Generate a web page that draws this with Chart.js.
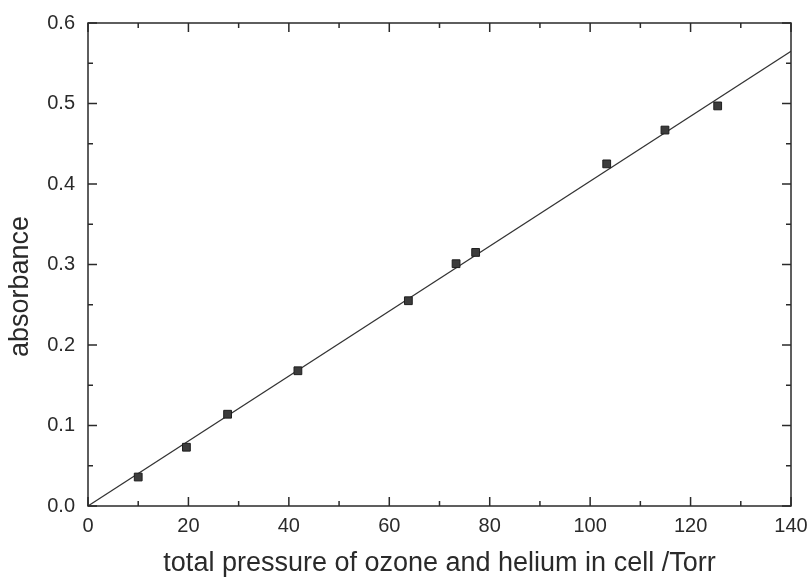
<!DOCTYPE html>
<html>
<head>
<meta charset="utf-8">
<script src="https://cdn.jsdelivr.net/npm/chart.js@4.4.1/dist/chart.umd.min.js"></script>
<style>
  html, body { margin: 0; padding: 0; background: #fff; }
  #wrap { width: 809px; height: 578px; }
</style>
</head>
<body>
<div id="wrap"><canvas id="absChart" width="809" height="578"></canvas></div>
<script>
// measured points
const pressure = [10, 19.6, 27.8, 41.8, 63.8, 73.3, 77.2, 103.3, 114.9, 125.4];
const absorbance = [0.036, 0.073, 0.114, 0.168, 0.255, 0.301, 0.315, 0.425, 0.467, 0.497];

// linear fit through origin
const fitPressure = [0, 140];
const fitAbsorbance = [0, 0.565];

const xTicks = [0, 20, 40, 60, 80, 100, 120, 140];
const yTicks = [0.0, 0.1, 0.2, 0.3, 0.4, 0.5, 0.6];

const xTitle = 'total pressure of ozone and helium in cell /Torr';
const yTitle = 'absorbance';

const ink = '#2a2a2a';
const fontName = '"Liberation Sans", Arial, sans-serif';

// frame + inward ticks on all four sides, y title (sits a bit below centre in the original)
const framePlugin = {
    id: 'frame',
    afterDatasetsDraw(chart) {
        const { ctx, chartArea: a, scales: { x, y } } = chart;
        ctx.save();
        ctx.strokeStyle = ink;
        ctx.lineWidth = 1.5;
        ctx.strokeRect(a.left, a.top, a.right - a.left, a.bottom - a.top);

        ctx.beginPath();
        xTicks.forEach((v, i) => {
            const px = x.getPixelForValue(v);
            ctx.moveTo(px, a.bottom); ctx.lineTo(px, a.bottom - 9);
            ctx.moveTo(px, a.top); ctx.lineTo(px, a.top + 9);
            if (i < xTicks.length - 1) {
                const mx = x.getPixelForValue((v + xTicks[i + 1]) / 2);
                ctx.moveTo(mx, a.bottom); ctx.lineTo(mx, a.bottom - 5);
                ctx.moveTo(mx, a.top); ctx.lineTo(mx, a.top + 5);
            }
        });
        yTicks.forEach((v, i) => {
            const py = y.getPixelForValue(v);
            ctx.moveTo(a.left, py); ctx.lineTo(a.left + 9, py);
            ctx.moveTo(a.right, py); ctx.lineTo(a.right - 9, py);
            if (i < yTicks.length - 1) {
                const my = y.getPixelForValue((v + yTicks[i + 1]) / 2);
                ctx.moveTo(a.left, my); ctx.lineTo(a.left + 5, my);
                ctx.moveTo(a.right, my); ctx.lineTo(a.right - 5, my);
            }
        });
        ctx.stroke();

        ctx.translate(y.left + 21, (a.top + a.bottom) / 2 + 22);
        ctx.rotate(-Math.PI / 2);
        ctx.fillStyle = ink;
        ctx.font = '27px ' + fontName;
        ctx.textAlign = 'center';
        ctx.textBaseline = 'middle';
        ctx.fillText(yTitle, 0, 0);
        ctx.restore();
    }
};

new Chart(document.getElementById('absChart'), {
    type: 'scatter',
    data: {
        datasets: [
            {
                label: 'data',
                data: pressure.map((p, i) => ({ x: p, y: absorbance[i] })),
                pointStyle: 'rect',
                pointRadius: 5.5,
                backgroundColor: '#3c3c3c',
                borderColor: '#1e1e1e',
                borderWidth: 1,
                order: 1
            },
            {
                label: 'fit',
                data: fitPressure.map((p, i) => ({ x: p, y: fitAbsorbance[i] })),
                showLine: true,
                pointRadius: 0,
                borderColor: '#333',
                borderWidth: 1.2,
                order: 2
            }
        ]
    },
    options: {
        responsive: false,
        animation: false,
        layout: { padding: { top: 23, right: 18, left: 0, bottom: 0 } },
        plugins: { legend: { display: false }, tooltip: { enabled: false } },
        scales: {
            x: {
                type: 'linear',
                min: 0, max: 140,
                afterBuildTicks: s => { s.ticks = xTicks.map(v => ({ value: v })); },
                afterFit: s => { s.height = 72; s.paddingLeft = 0; s.paddingRight = 0; },
                grid: { display: false, drawTicks: false },
                border: { display: false },
                ticks: {
                    color: ink, padding: 8,
                    font: { family: fontName, size: 20 },
                    maxRotation: 0
                },
                title: {
                    display: true,
                    text: xTitle,
                    color: ink,
                    font: { family: fontName, size: 27, lineHeight: 1 },
                    padding: { top: 0, bottom: 1 }
                }
            },
            y: {
                type: 'linear',
                min: 0, max: 0.6,
                afterBuildTicks: s => { s.ticks = yTicks.map(v => ({ value: v })); },
                afterFit: s => { s.width = 88; s.paddingTop = 0; s.paddingBottom = 0; },
                grid: { display: false, drawTicks: false },
                border: { display: false },
                ticks: {
                    color: ink, padding: 13,
                    font: { family: fontName, size: 20 },
                    callback: v => v.toFixed(1)
                },
                title: { display: false }
            }
        }
    },
    plugins: [framePlugin]
});
</script>
</body>
</html>
